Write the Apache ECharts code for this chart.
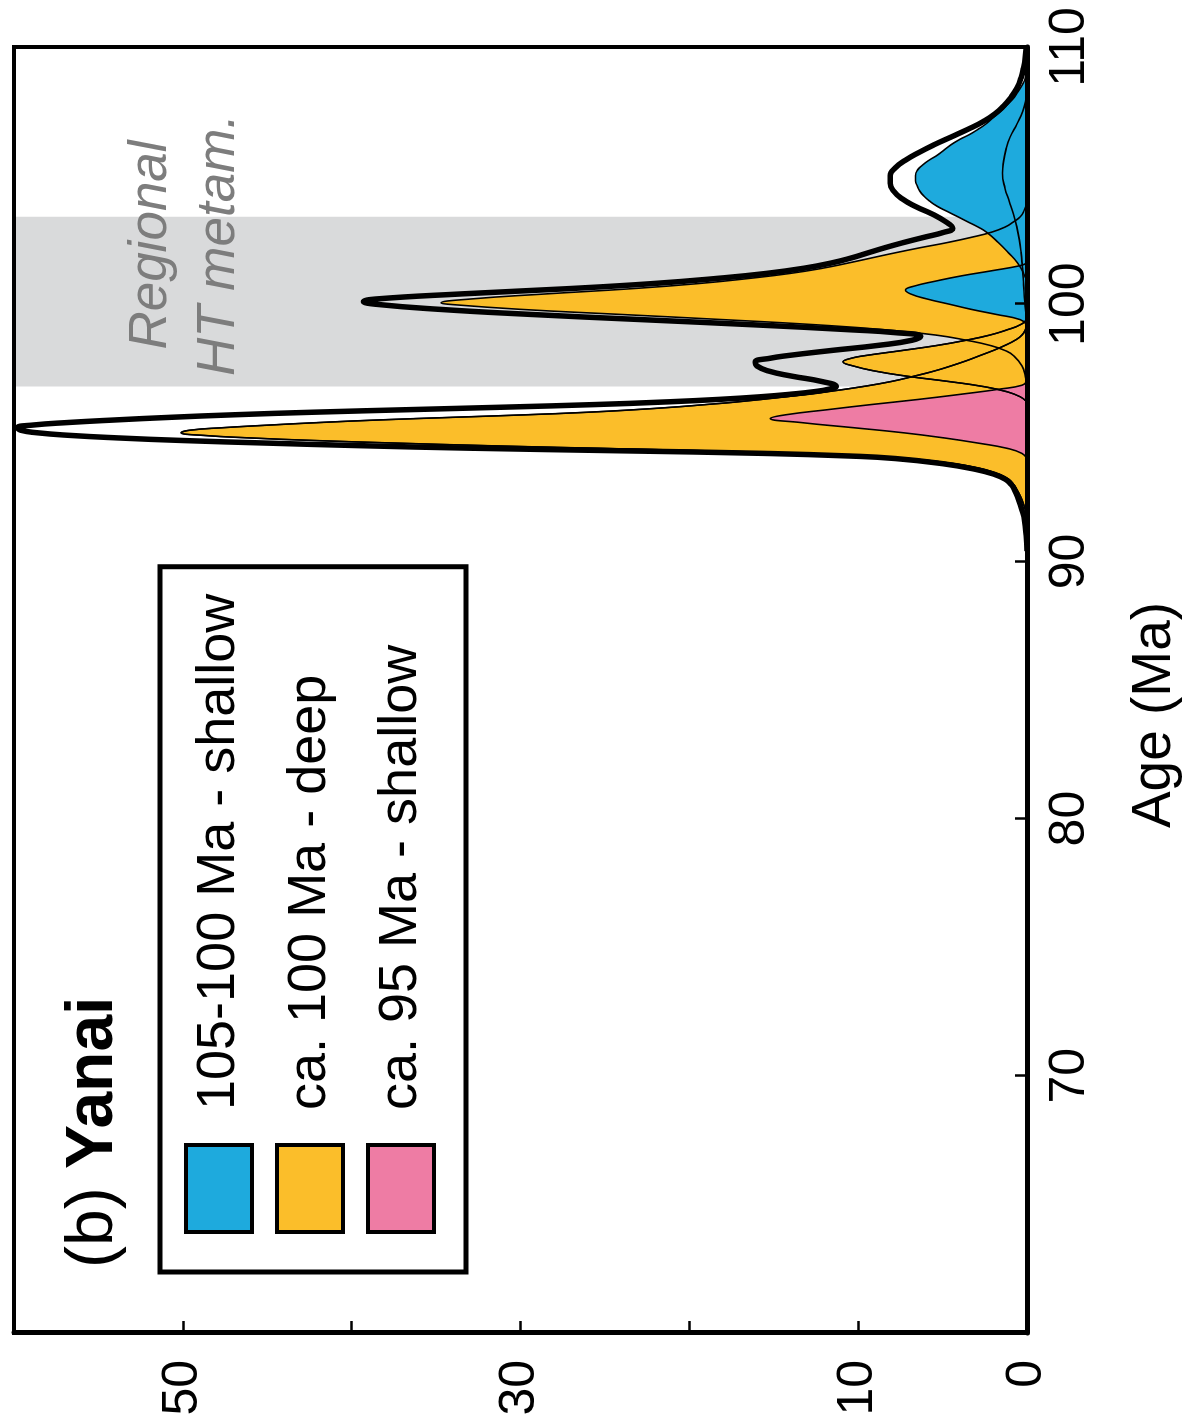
<!DOCTYPE html>
<html>
<head>
<meta charset="utf-8">
<script src="https://cdn.jsdelivr.net/npm/echarts@6/dist/echarts.min.js"></script>
<style>
html,body{margin:0;padding:0;background:#fff;overflow:hidden;width:1186px;height:1426px;}
#wrap{position:absolute;left:0;top:0;width:1426px;height:1186px;transform-origin:0 0;transform:translateY(1426px) rotate(-90deg);}
</style>
</head>
<body>
<div id="wrap"></div>
<script>
// ---- Data (age in Ma, density values) ----
const ageTicks = [70, 80, 90, 100, 110];
const valueTicks = [0, 10, 30, 50];
const legendNames = ['105-100 Ma - shallow', 'ca. 100 Ma - deep', 'ca. 95 Ma - shallow'];
const bandRange = [96.8, 103.4];

const totalAge = [90.4,91.0,91.6,92.0,92.4,92.8,93.0,93.2,93.4,93.6,93.8,94.0,94.1,94.2,94.3,94.4,94.5,94.6,94.7,94.8,94.9,95.0,95.1,95.2,95.3,95.4,95.5,95.6,95.7,95.8,95.9,96.0,96.1,96.2,96.3,96.4,96.5,96.6,96.7,96.8,97.0,97.2,97.4,97.6,97.75,97.9,98.0,98.2,98.4,98.6,98.75,98.9,99.0,99.2,99.4,99.6,99.8,100.0,100.1,100.2,100.4,100.6,100.8,101.0,101.2,101.4,101.6,101.8,102.0,102.2,102.4,102.6,102.8,102.95,103.2,103.5,103.8,104.1,104.4,104.7,105.0,105.3,105.6,105.9,106.2,106.5,106.8,107.1,107.4,107.7,108.0,108.4,108.8,109.2,109.6,110.0];
const totalVal = [0,0.05,0.15,0.3,0.5,0.75,0.95,1.3,2.0,3.2,5.0,7.8,10.6,15.6,24.0,32.8,39.5,45.0,50.0,53.8,56.7,58.6,59.6,59.8,58.9,56.8,54.0,50.8,47.0,42.3,36.6,30.8,25.5,21.4,18.2,15.8,14.0,12.6,11.7,11.3,12.2,13.9,15.3,16.0,16.1,15.2,14.2,11.6,8.8,6.8,6.3,7.9,10.3,16.2,22.8,29.3,34.8,38.6,39.3,38.6,33.5,27.3,22.2,18.4,15.4,13.2,11.6,10.4,9.4,8.4,7.3,6.1,4.9,4.4,4.8,5.6,6.6,7.4,7.9,8.1,8.1,7.8,7.2,6.4,5.5,4.5,3.5,2.6,1.9,1.4,1.0,0.6,0.35,0.2,0.1,0.05];

const deep95Age = [91.6,92.0,92.4,92.8,93.0,93.2,93.4,93.6,93.8,94.0,94.1,94.2,94.3,94.4,94.5,94.6,94.7,94.8,94.9,95.0,95.1,95.2,95.3,95.4,95.5,95.6,95.7,95.8,95.9,96.0,96.1,96.2,96.4,96.6,96.8,97.0,97.2,97.4,97.6,97.8,98.0,98.2,98.4,98.6,98.8,99.0,99.2];
const deep95Val = [0,0.1,0.3,0.6,0.8,1.1,1.7,2.7,4.3,7.0,9.6,13.4,19.0,25.6,32.0,37.4,42.2,46.0,48.8,50.1,49.6,47.6,44.9,41.9,38.4,34.1,29.7,26.0,23.2,20.9,19.0,17.2,14.3,11.8,9.7,8.0,6.7,5.5,4.5,3.6,2.8,2.0,1.3,0.7,0.3,0.1,0];

const deep98Age = [96.2,96.4,96.6,96.8,97.0,97.2,97.4,97.6,97.76,97.9,98.0,98.2,98.4,98.6,98.8,99.0,99.2,99.4,99.6];
const deep98Val = [0,0.4,1.2,2.6,4.7,7.1,9.0,10.3,10.9,10.4,9.6,7.4,5.3,3.6,2.2,1.2,0.4,0.05,0];

const deep100Age = [96.8,97.2,97.6,98.0,98.2,98.4,98.6,98.8,99.0,99.2,99.4,99.6,99.8,100.0,100.05,100.2,100.4,100.6,100.8,101.0,101.2,101.4,101.6,101.8,102.0,102.2,102.4,102.6,102.8,103.0,103.2,103.4,103.6,104.0];
const deep100Val = [0,0.1,0.3,0.8,1.3,2.2,3.6,5.4,8.3,12.5,18.0,24.0,30.0,34.3,34.7,33.0,28.5,23.5,19.5,16.5,14.0,12.1,10.6,9.2,7.8,6.3,4.7,3.3,2.1,1.3,0.8,0.4,0.2,0];

const shallow95Age = [94.0,94.2,94.4,94.6,94.8,95.0,95.2,95.4,95.56,95.7,95.9,96.1,96.3,96.5,96.7,96.85,97.0];
const shallow95Val = [0,0.3,1.2,2.9,4.9,7.3,10.3,13.4,15.2,14.3,11.8,9.2,6.4,3.9,1.6,0.3,0];

const shallowOldAge = [100.8,101.2,101.6,102.0,102.4,102.8,103.0,103.2,103.4,103.6,103.8,104.0,104.2,104.4,104.6,104.8,105.0,105.2,105.4,105.6,105.8,106.0,106.2,106.4,106.6,106.8,107.0,107.2,107.4,107.6,107.8,108.0,108.2,108.4,108.6,108.8,109.0,109.4];
const shallowOldVal = [0,0.2,0.55,1.1,1.7,2.4,2.9,3.5,4.1,4.7,5.3,5.75,6.1,6.35,6.5,6.6,6.6,6.5,6.2,5.8,5.3,4.9,4.5,4.0,3.4,2.9,2.45,2.1,1.75,1.4,1.1,0.8,0.6,0.4,0.22,0.1,0.05,0];

const shallow100Age = [99.2,99.4,99.6,99.8,100.0,100.2,100.4,100.55,100.7,100.9,101.1,101.3,101.5,101.6];
const shallow100Val = [0,0.4,1.8,3.3,4.6,5.9,6.9,7.2,6.7,5.4,3.9,2.1,0.4,0];

const shallowMinorAge = [99.3,99.6,100.0,100.5,101.0,101.5,102.0,102.5,103.0,103.5,104.0,104.5,105.1,105.5,106.0,106.5,107.0,107.5,108.0,108.3];
const shallowMinorVal = [0,0.06,0.12,0.18,0.22,0.28,0.35,0.45,0.6,0.8,1.05,1.3,1.45,1.4,1.25,1.0,0.6,0.25,0.05,0];

// ---- Styles ----
const BLUE = '#1eaadd', YELLOW = '#fbbe2a', PINK = '#ee7ca4', GRAY_BAND = '#d9dadb';
const FONT = 'Liberation Sans';

function pairs(a, v) { return a.map((x, i) => [x, v[i]]); }

function filled(name, ages, vals, color) {
  return {
    name: name, type: 'line', z: 2, data: pairs(ages, vals),
    smooth: 0.5, showSymbol: false, symbol: 'none', silent: true,
    itemStyle: { color: color },
    lineStyle: { color: '#000', width: 1.6 },
    areaStyle: { color: color, opacity: 1 }
  };
}
function outline(name, ages, vals) {
  return {
    name: name, type: 'line', z: 2, data: pairs(ages, vals),
    smooth: 0.5, showSymbol: false, symbol: 'none', silent: true,
    lineStyle: { color: '#000', width: 1.4 }
  };
}

const chart = echarts.init(document.getElementById('wrap'), null, { renderer: 'canvas' });

const option = {
  animation: false,
  backgroundColor: '#ffffff',
  textStyle: { fontFamily: FONT },
  title: {
    left: 158, top: 61, padding: 0,
    text: '{a|(b) }{b|Yanai}',
    textStyle: {
      rich: {
        a: { fontSize: 66, fontFamily: FONT, color: '#000', fontWeight: 'normal' },
        b: { fontSize: 66, fontFamily: FONT, color: '#000', fontWeight: 'bold' }
      }
    }
  },
  legend: {
    left: 154, top: 160, orient: 'vertical',
    padding: [24, 27, 30, 38],
    itemGap: 21, itemWidth: 87, itemHeight: 66,
    borderColor: '#000', borderWidth: 5, backgroundColor: '#fff',
    selectedMode: false,
    itemStyle: { borderColor: '#000', borderWidth: 4 },
    textStyle: { fontSize: 54, lineHeight: 66, color: '#000', fontFamily: FONT, padding: [0, 0, 0, 30] },
    data: [
      { name: legendNames[0], icon: 'rect', itemStyle: { color: BLUE } },
      { name: legendNames[1], icon: 'rect', itemStyle: { color: YELLOW } },
      { name: legendNames[2], icon: 'rect', itemStyle: { color: PINK } }
    ]
  },
  grid: {
    left: 93, right: 47, top: 14, bottom: 159, z: 10,
    show: true, borderColor: '#000', borderWidth: 4, backgroundColor: 'transparent',
    containLabel: false, outerBoundsMode: 'none'
  },
  xAxis: {
    type: 'value', min: 60, max: 110, interval: 10, z: 10,
    axisLine: { show: true, onZero: false, lineStyle: { color: '#000', width: 5 } },
    axisTick: { show: true, inside: true, length: 12, lineStyle: { color: '#000', width: 2.5 } },
    splitLine: { show: false },
    axisLabel: {
      show: true, fontSize: 50, color: '#000', fontFamily: FONT, margin: 18,
      showMinLabel: true, showMaxLabel: true,
      formatter: v => (ageTicks.indexOf(v) >= 0 ? String(v) : '')
    },
    name: 'Age (Ma)', nameLocation: 'middle', nameGap: 100,
    nameTextStyle: { fontSize: 55, color: '#000', fontFamily: FONT, padding: [0, 50, 0, 0] }
  },
  yAxis: {
    type: 'value', min: 0, max: 60, interval: 10, z: 10,
    axisLine: { show: true, onZero: false, lineStyle: { color: '#000', width: 5 } },
    axisTick: { show: true, inside: true, length: 12, lineStyle: { color: '#000', width: 2.5 } },
    splitLine: { show: false },
    axisLabel: {
      show: true, fontSize: 50, color: '#000', fontFamily: FONT, margin: 27,
      showMinLabel: true, showMaxLabel: true,
      formatter: v => (valueTicks.indexOf(v) >= 0 ? String(v) : '')
    }
  },
  graphic: [{
    type: 'text', x: 1181, y: 117, z: 5, silent: true,
    style: {
      text: 'Regional\nHT metam.',
      font: 'italic 53px "Liberation Sans"',
      fill: '#7d7d7d', align: 'center', verticalAlign: 'top', lineHeight: 68
    }
  }],
  series: [
    {
      name: 'band', type: 'line', z: 1, data: [], silent: true,
      markArea: {
        silent: true,
        itemStyle: { color: GRAY_BAND, opacity: 1 },
        data: [[{ xAxis: bandRange[0] }, { xAxis: bandRange[1] }]]
      }
    },
    filled(legendNames[1], deep95Age, deep95Val, YELLOW),
    filled(legendNames[1], deep98Age, deep98Val, YELLOW),
    filled(legendNames[1], deep100Age, deep100Val, YELLOW),
    outline('deep-95-outline', deep95Age, deep95Val),
    outline('deep-98-outline', deep98Age, deep98Val),
    filled(legendNames[2], shallow95Age, shallow95Val, PINK),
    filled(legendNames[0], shallowOldAge, shallowOldVal, BLUE),
    filled(legendNames[0], shallow100Age, shallow100Val, BLUE),
    filled(legendNames[0], shallowMinorAge, shallowMinorVal, BLUE),
    {
      name: 'total', type: 'line', z: 3, data: pairs(totalAge, totalVal),
      smooth: 0.5, showSymbol: false, symbol: 'none', silent: true,
      lineStyle: { color: '#000', width: 5.5, join: 'round' }
    }
  ]
};
chart.setOption(option);
</script>
</body>
</html>
